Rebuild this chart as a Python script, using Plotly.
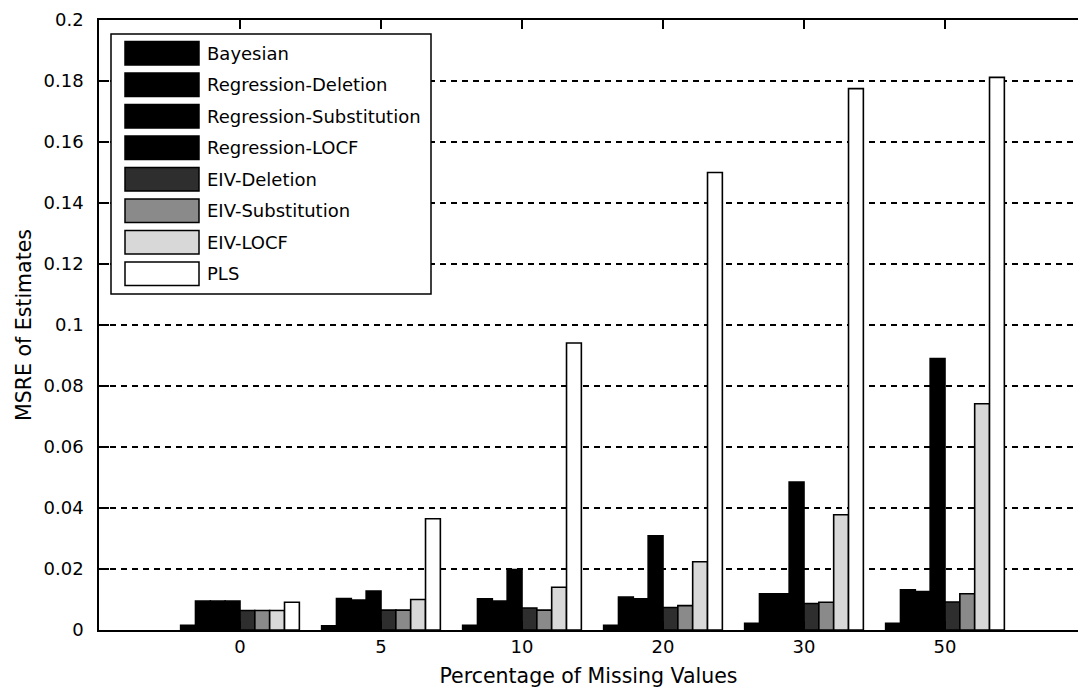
import plotly.graph_objects as go

# Missing-value percentages (x categories)
categories = ["0", "5", "10", "20", "30", "50"]

# MSRE of estimates for each method
bayesian = [0.0015, 0.0014, 0.0015, 0.0015, 0.0022, 0.0022]
reg_deletion = [0.0095, 0.0103, 0.0102, 0.0108, 0.0119, 0.0132]
reg_substitution = [0.0095, 0.0098, 0.0095, 0.0102, 0.0119, 0.0126]
reg_locf = [0.0095, 0.0128, 0.0198, 0.0309, 0.0485, 0.0890]
eiv_deletion = [0.0064, 0.0065, 0.0072, 0.0074, 0.0087, 0.0092]
eiv_substitution = [0.0064, 0.0065, 0.0065, 0.0080, 0.0091, 0.0119]
eiv_locf = [0.0064, 0.0100, 0.0140, 0.0224, 0.0378, 0.0742]
pls = [0.0091, 0.0365, 0.0941, 0.1500, 0.1775, 0.1812]

method_names = ["Bayesian", "Regression-Deletion", "Regression-Substitution",
                "Regression-LOCF", "EIV-Deletion", "EIV-Substitution",
                "EIV-LOCF", "PLS"]
method_values = [bayesian, reg_deletion, reg_substitution, reg_locf,
                 eiv_deletion, eiv_substitution, eiv_locf, pls]
method_colors = ["#000000", "#000000", "#000000", "#000000",
                 "#2e2e2e", "#8a8a8a", "#d8d8d8", "#ffffff"]

ytick_vals = [0, 0.02, 0.04, 0.06, 0.08, 0.1, 0.12, 0.14, 0.16, 0.18, 0.2]
ytick_text = ["0", "0.02", "0.04", "0.06", "0.08", "0.1", "0.12", "0.14",
              "0.16", "0.18", "0.2"]

FONT = "DejaVu Sans"
W, H = 1078, 691
ML, MR, MT, MB = 99, 0, 20, 61
PW, PH = W - ML - MR, H - MT - MB

x_pos = list(range(1, len(categories) + 1))

fig = go.Figure()
for name, vals, col in zip(method_names, method_values, method_colors):
    fig.add_trace(go.Bar(
        x=x_pos, y=vals, name=name,
        marker=dict(color=col, line=dict(color="#000000", width=1.6)),
        showlegend=False,
    ))


def px_x(px):
    return (px - ML) / PW


def px_y(py):
    return (H - MB - py) / PH


# Legend box drawn in the upper-left corner of the axes
shapes = [dict(type="rect", xref="paper", yref="paper",
               x0=px_x(111), x1=px_x(431), y0=px_y(294), y1=px_y(34),
               fillcolor="#ffffff", line=dict(color="#000000", width=1.5),
               layer="above")]
annotations = []
row0, row_step, sw_h = 53.3, 31.5, 23.5
for i, (name, col) in enumerate(zip(method_names, method_colors)):
    cy = row0 + i * row_step
    shapes.append(dict(type="rect", xref="paper", yref="paper",
                       x0=px_x(125), x1=px_x(199),
                       y0=px_y(cy + sw_h / 2), y1=px_y(cy - sw_h / 2),
                       fillcolor=col, line=dict(color="#000000", width=1.5),
                       layer="above"))
    annotations.append(dict(xref="paper", yref="paper", x=px_x(205),
                            y=px_y(cy), text=name, showarrow=False,
                            xanchor="left", yanchor="middle",
                            font=dict(family=FONT, size=18, color="#000000")))

fig.update_layout(
    width=W, height=H,
    margin=dict(l=ML, r=MR, t=MT, b=MB, pad=0),
    paper_bgcolor="#ffffff", plot_bgcolor="#ffffff",
    barmode="group", bargap=0.158, bargroupgap=0,
    font=dict(family=FONT, size=18, color="#000000"),
    shapes=shapes, annotations=annotations,
    showlegend=False,
)

fig.update_xaxes(
    range=[0, PW / 141.0], tickmode="array", tickvals=x_pos,
    ticktext=categories, showgrid=False, zeroline=False,
    showline=True, linecolor="#000000", linewidth=1.5, mirror="ticks",
    ticks="inside", ticklen=9, tickwidth=1.5, tickcolor="#000000",
    tickfont=dict(family=FONT, size=18),
    title=dict(text="Percentage of Missing Values", standoff=12,
               font=dict(family=FONT, size=20.5)),
)
fig.update_yaxes(
    range=[0, 0.2], tickmode="array", tickvals=ytick_vals,
    ticktext=ytick_text, showgrid=True, gridcolor="#000000",
    gridwidth=1.5, griddash="6px,5px", zeroline=False,
    showline=True, linecolor="#000000", linewidth=1.5, mirror=False,
    ticks="inside", ticklen=10, tickwidth=1.5, tickcolor="#000000",
    ticklabelstandoff=10,
    tickfont=dict(family=FONT, size=18),
    title=dict(text="MSRE of Estimates", standoff=6,
               font=dict(family=FONT, size=20.5)),
)

fig.write_html("out.html")
